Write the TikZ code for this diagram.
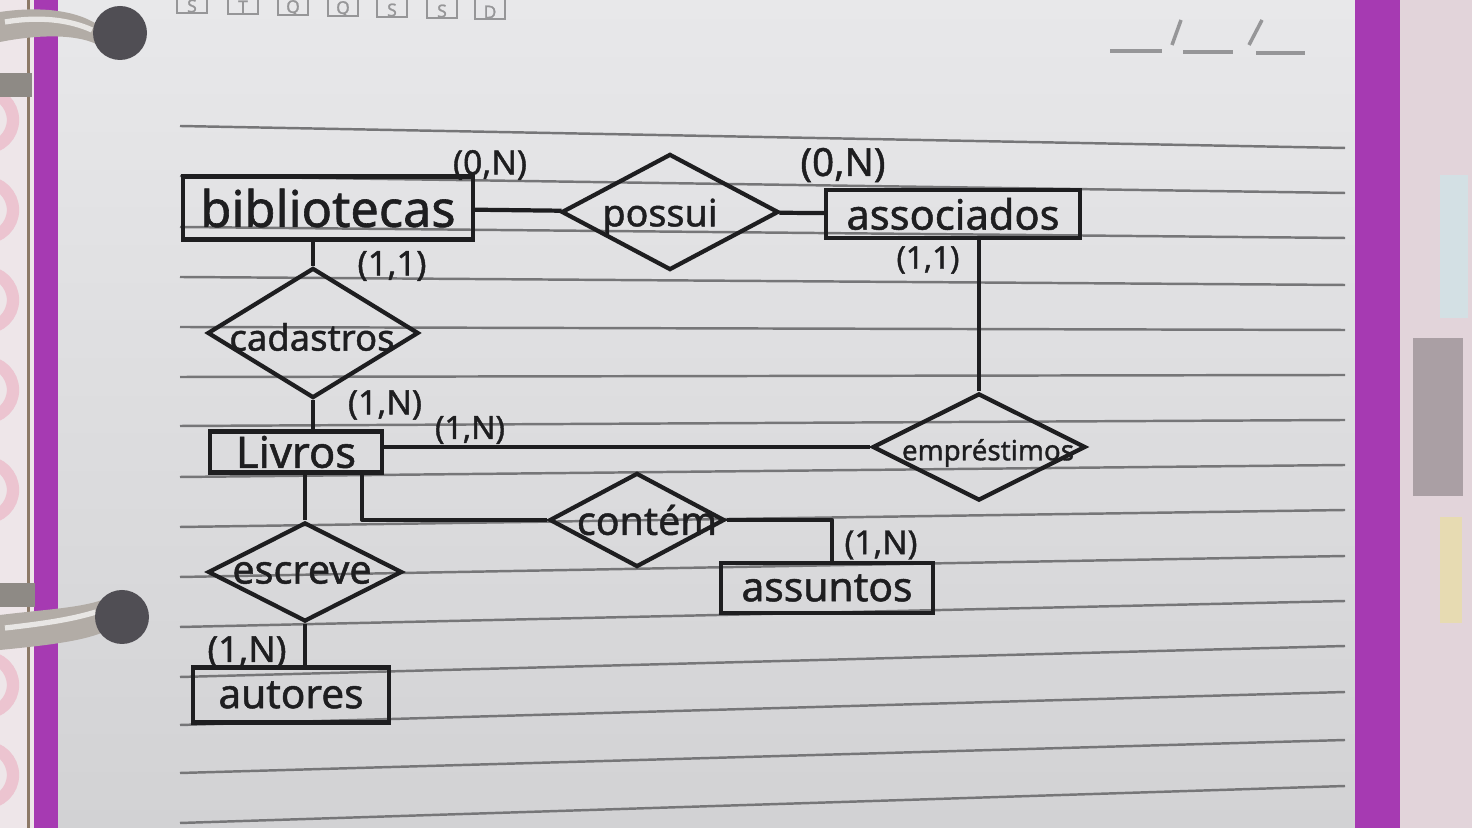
\documentclass[tikz,border=0pt]{standalone}
\usepackage{fontspec}
\setmainfont{Noto Sans}[FakeBold=1.2]
\usepackage{graphicx}
\usetikzlibrary{shapes.geometric}
\definecolor{ink}{RGB}{30,30,32}
\definecolor{rulecol}{RGB}{118,118,120}
\definecolor{purp}{RGB}{166,58,178}
\definecolor{paperT}{RGB}{232,232,234}
\definecolor{paperB}{RGB}{210,210,212}
\definecolor{leftbg}{RGB}{238,230,233}
\definecolor{rightbg}{RGB}{226,212,218}
\definecolor{pinkc}{RGB}{236,196,208}
\definecolor{ringc}{RGB}{178,172,166}
\definecolor{holec}{RGB}{80,78,84}
\definecolor{printc}{RGB}{150,150,152}
\newcommand{\fitw}[2]{\resizebox{#1}{!}{#2}}
\begin{document}
\begin{tikzpicture}[x=0.01cm,y=-0.01cm,
  entity/.style={draw=ink,line width=1.2pt,rectangle,inner sep=0pt,text=ink},
  rel/.style={draw=ink,line width=1.2pt,diamond,inner sep=0pt},
  lab/.style={inner sep=0pt,text=ink},
  card/.style={inner sep=0pt,text=ink},
  link/.style={draw=ink,line width=1.2pt,line join=round},
  ruled/.style={draw=rulecol,line width=0.7pt},
  printed/.style={draw=printc,line width=0.6pt}]
\useasboundingbox (0,0) rectangle (1472,828);
\clip (0,0) rectangle (1472,828);
% ---------- background (photo of notebook page) ----------
\fill[leftbg] (0,0) rectangle (58,828);
\foreach \c in {120,210,300,390,490,685,775}
  \draw[pinkc,line width=3.5pt] (-15,\c) ++(0,-28) arc[start angle=-90,end angle=90,radius=28];
\fill[rulecol!70!brown] (27,0) rectangle (30,828);
\fill[purp] (34,0) rectangle (58,828);
\shade[top color=paperT,bottom color=paperB] (58,0) rectangle (1355,828);
\fill[purp] (1355,0) rectangle (1400,828);
\fill[rightbg] (1400,0) rectangle (1472,828);
\fill[rightbg!70!cyan!60!white,opacity=0.5] (1440,175) rectangle (1468,318);
\fill[rightbg!55!black,opacity=0.55] (1413,338) rectangle (1463,496);
\fill[rightbg!70!yellow,opacity=0.6] (1440,517) rectangle (1462,623);
% ring binders
\fill[ringc] (0,12) .. controls (40,6) and (80,10) .. (102,28) -- (100,46) .. controls (80,34) and (40,34) .. (0,42) -- cycle;
\draw[white,line width=1.5pt,opacity=0.7] (5,22) .. controls (40,16) and (70,20) .. (92,30);
\fill[holec] (120,33) circle[radius=27];
\fill[ringc!80!black] (0,73) rectangle (32,97);
\fill[ringc] (0,615) .. controls (40,610) and (80,608) .. (102,600) -- (104,632) .. controls (80,642) and (40,646) .. (0,650) -- cycle;
\draw[white,line width=1.5pt,opacity=0.7] (5,628) .. controls (40,624) and (70,620) .. (96,612);
\fill[holec] (122,617) circle[radius=27];
\fill[ringc!80!black] (0,583) rectangle (35,607);
% printed header: weekday boxes and date field
\foreach \x/\b/\t in {177/13/S,228/14/T,278/15/Q,328/16/Q,377/17/S,427/18/S,475/19/D}{
  \draw[printed] (\x,-12) rectangle ++(30,\b+12);
  \node[inner sep=0pt,text=printc,font=\fontsize{5}{5}\selectfont] at (\x+15,\b-7) {\t};
}
\draw[printed,line width=1pt] (1110,51) -- (1162,51);
\draw[printed,line width=1pt] (1172,45) -- (1181,20);
\draw[printed,line width=1pt] (1183,52) -- (1233,52);
\draw[printed,line width=1pt] (1249,45) -- (1262,20);
\draw[printed,line width=1pt] (1256,53) -- (1305,53);
% ruled lines (perspective)
\foreach \l/\r in {126/148,176/193,227/238,277/285,327/330,377/375,426/420,477/465,527/510,577/556,627/601,677/646,725/692,773/740,823/786}
  \draw[ruled] (180,\l) -- (1345,\r);
% ---------- ER diagram ----------
\node[entity,minimum width=2.90cm,minimum height=0.63cm] (bib) at (328,208) {\fitw{2.55cm}{bibliotecas}};
\node[entity,minimum width=2.54cm,minimum height=0.48cm] (asso) at (953,214) {\fitw{2.13cm}{associados}};
\node[entity,minimum width=1.72cm,minimum height=0.41cm] (livros) at (296,452) {\fitw{1.20cm}{Livros}};
\node[entity,minimum width=2.12cm,minimum height=0.50cm] (assuntos) at (827,588) {\fitw{1.71cm}{assuntos}};
\node[entity,minimum width=1.96cm,minimum height=0.55cm] (autores) at (291,695) {\fitw{1.45cm}{autores}};

\node[rel,minimum width=2.17cm,minimum height=1.16cm,
  label={[lab,xshift=-0.10cm,yshift=-0.05cm]center:\fitw{1.15cm}{possui}}] (possui) at (670,212) {};
\node[rel,minimum width=2.11cm,minimum height=1.30cm,
  label={[lab,xshift=-0.01cm,yshift=-0.04cm]center:\fitw{1.65cm}{cadastros}}] (cad) at (313,333) {};
\node[rel,minimum width=2.13cm,minimum height=1.07cm,
  label={[lab,xshift=0.09cm,yshift=-0.06cm]center:\fitw{1.72cm}{empréstimos}}] (emp) at (979,447) {};
\node[rel,minimum width=1.94cm,minimum height=0.99cm,
  label={[lab,xshift=-0.03cm,yshift=-0.01cm]center:\fitw{1.39cm}{escreve}}] (esc) at (305,572) {};
\node[rel,minimum width=1.75cm,minimum height=0.94cm,
  label={[lab,xshift=0.10cm]center:\fitw{1.40cm}{contém}}] (cont) at (637,520) {};

\draw[link] (bib) -- (possui);
\draw[link] (possui) -- (asso);
\draw[link] (bib.south -| cad.north) -- (cad.north);
\draw[link] (cad.south) -- (cad.south |- livros.north);
\draw[link] (asso.south -| emp.north) -- (emp.north);
\draw[link] (emp.west -| livros.east) -- (emp.west);
\draw[link] (livros.south -| esc.north) -- (esc.north);
\draw[link] (esc.south) -- (esc.south |- autores.north);
\draw[link] ([xshift=0.66cm]livros.south) |- (cont.west);
\draw[link] (cont.east) -| ([xshift=0.05cm]assuntos.north);

\node[card] (c1) at (490,165) {\fitw{0.74cm}{(0,N)}};
\node[card] (c2) at (843,165) {\fitw{0.85cm}{(0,N)}};
\node[card] (c3) at (392,266) {\fitw{0.69cm}{(1,1)}};
\node[card] (c4) at (928,260) {\fitw{0.63cm}{(1,1)}};
\node[card] (c5) at (385,405) {\fitw{0.74cm}{(1,N)}};
\node[card] (c6) at (470,430) {\fitw{0.70cm}{(1,N)}};
\node[card] (c7) at (881,545) {\fitw{0.73cm}{(1,N)}};
\node[card] (c8) at (247,652) {\fitw{0.79cm}{(1,N)}};
\end{tikzpicture}
\end{document}
